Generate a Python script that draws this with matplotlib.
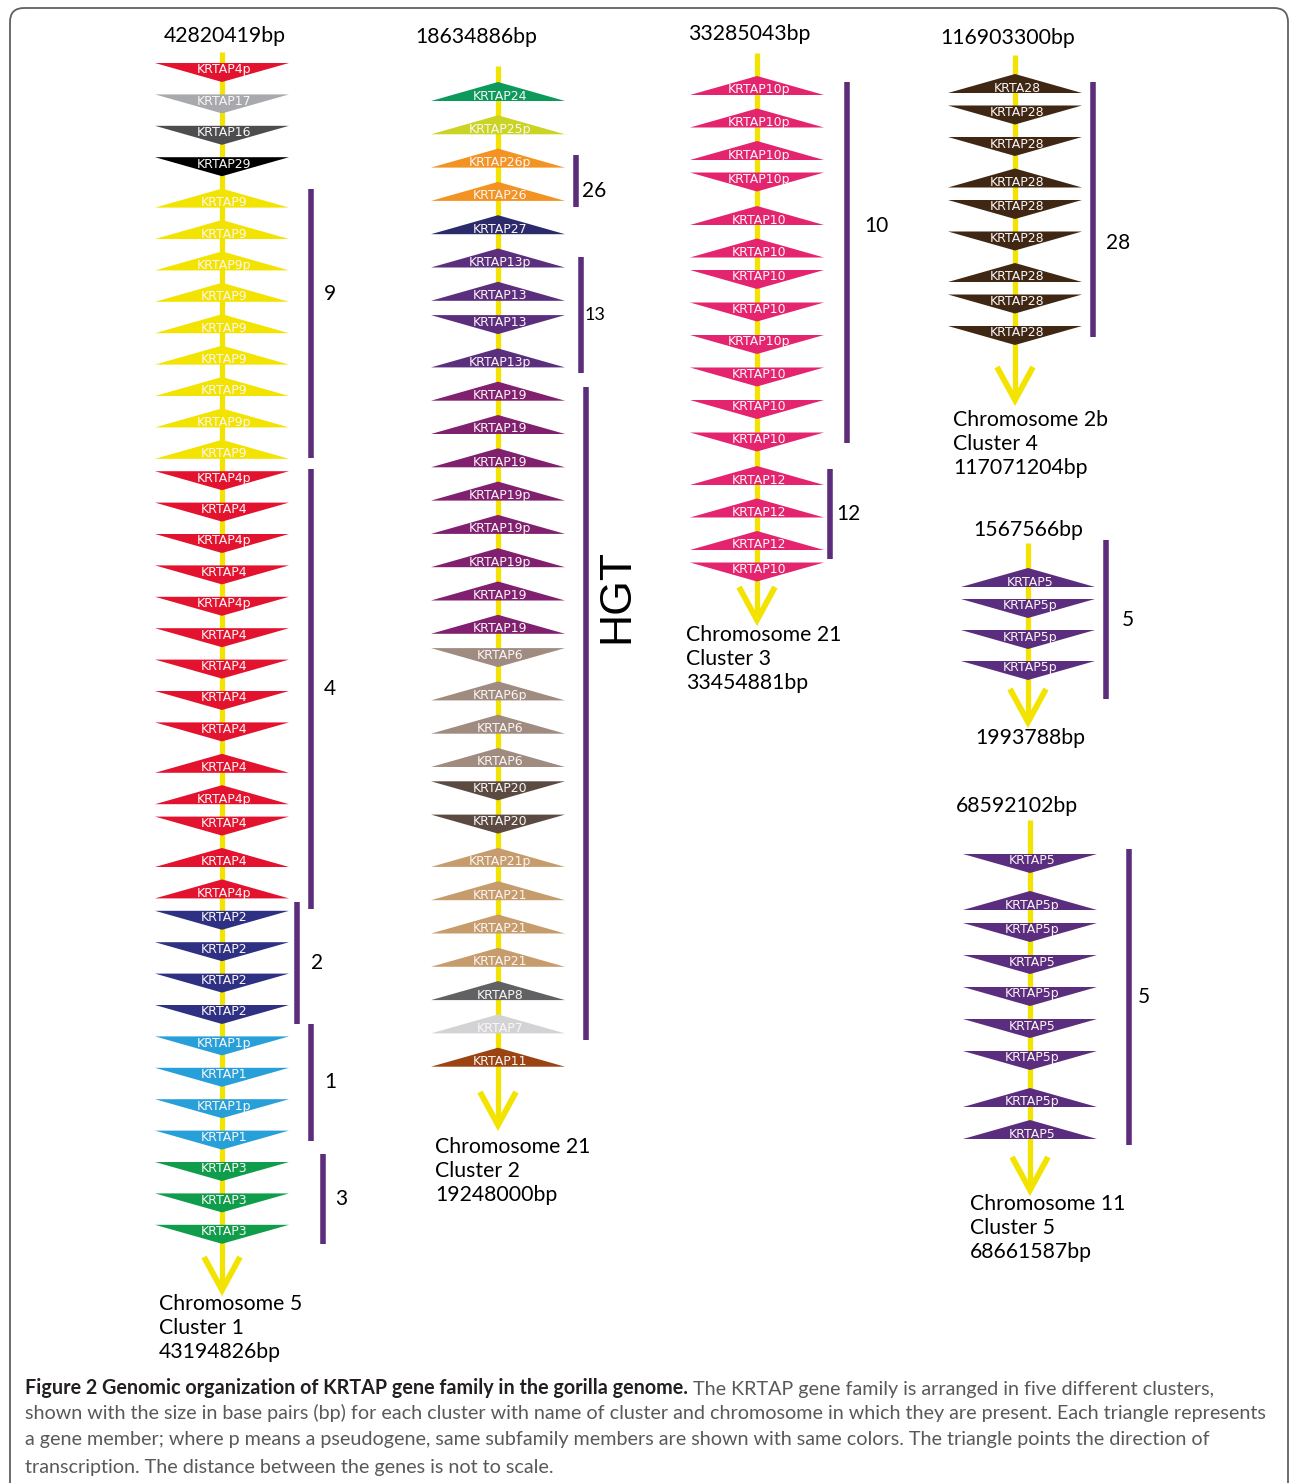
import re
import matplotlib
matplotlib.use("Agg")
import matplotlib.pyplot as plt
from matplotlib.patches import Polygon, FancyBboxPatch

# ---------------- data ----------------
c1_genes = ["KRTAP4p", "KRTAP17", "KRTAP16", "KRTAP29",
            "KRTAP9", "KRTAP9", "KRTAP9p", "KRTAP9", "KRTAP9", "KRTAP9", "KRTAP9", "KRTAP9p", "KRTAP9",
            "KRTAP4p", "KRTAP4", "KRTAP4p", "KRTAP4", "KRTAP4p", "KRTAP4", "KRTAP4", "KRTAP4", "KRTAP4",
            "KRTAP4", "KRTAP4p", "KRTAP4", "KRTAP4", "KRTAP4p",
            "KRTAP2", "KRTAP2", "KRTAP2", "KRTAP2",
            "KRTAP1p", "KRTAP1", "KRTAP1p", "KRTAP1",
            "KRTAP3", "KRTAP3", "KRTAP3"]
c1_dirs = "DDDD" + "UUUUUUUUU" + "DDDDDDDDDUUDUU" + "DDDD" + "DDDD" + "DDD"

c2_genes = ["KRTAP24", "KRTAP25p", "KRTAP26p", "KRTAP26", "KRTAP27",
            "KRTAP13p", "KRTAP13", "KRTAP13", "KRTAP13p",
            "KRTAP19", "KRTAP19", "KRTAP19", "KRTAP19p", "KRTAP19p", "KRTAP19p", "KRTAP19", "KRTAP19",
            "KRTAP6", "KRTAP6p", "KRTAP6", "KRTAP6", "KRTAP20", "KRTAP20",
            "KRTAP21p", "KRTAP21", "KRTAP21", "KRTAP21", "KRTAP8", "KRTAP7", "KRTAP11"]
c2_dirs = "UUUUU" + "UUDU" + "UUUUUUUU" + "DUUU" + "DD" + "UUUU" + "UUU"

c3_genes = ["KRTAP10p", "KRTAP10p", "KRTAP10p", "KRTAP10p",
            "KRTAP10", "KRTAP10", "KRTAP10", "KRTAP10", "KRTAP10p",
            "KRTAP10", "KRTAP10", "KRTAP10",
            "KRTAP12", "KRTAP12", "KRTAP12", "KRTAP10"]
c3_dirs = "UUUD" + "UUDDD" + "DDD" + "UUU" + "D"

c4_genes = ["KRTA28", "KRTAP28", "KRTAP28", "KRTAP28", "KRTAP28",
            "KRTAP28", "KRTAP28", "KRTAP28", "KRTAP28"]
c4_dirs = "UDDUDDUDD"

c5a_genes = ["KRTAP5", "KRTAP5p", "KRTAP5p", "KRTAP5p"]
c5a_dirs = "UDDD"

c5b_genes = ["KRTAP5", "KRTAP5p", "KRTAP5p", "KRTAP5", "KRTAP5p",
             "KRTAP5", "KRTAP5p", "KRTAP5p", "KRTAP5"]
c5b_dirs = "DUDDDDDUU"

start_labels = ["42820419bp", "18634886bp", "33285043bp", "116903300bp", "1567566bp", "68592102bp"]
end_labels = [["Chromosome 5", "Cluster 1", "43194826bp"],
              ["Chromosome 21", "Cluster 2", "19248000bp"],
              ["Chromosome 21", "Cluster 3", "33454881bp"],
              ["Chromosome 2b", "Cluster 4", "117071204bp"],
              ["1993788bp"],
              ["Chromosome 11", "Cluster 5", "68661587bp"]]

# subfamily groups: (label, first gene index, last gene index)
c1_groups = [("9", 4, 12), ("4", 13, 26), ("2", 27, 30), ("1", 31, 34), ("3", 35, 37)]
c2_groups = [("26", 2, 3), ("13", 5, 8), ("HGT", 9, 28)]
c3_groups = [("10", 0, 11), ("12", 12, 14)]
c4_groups = [("28", 0, 8)]
c5a_groups = [("5", 0, 3)]
c5b_groups = [("5", 0, 8)]

subfamily_colors = {
    "4": "#e3132f", "17": "#a7a9ac", "16": "#4d4d4f", "29": "#000000", "9": "#f3e300",
    "2": "#2e3083", "1": "#27a0d9", "3": "#0f9d4b",
    "24": "#0c9a5c", "25": "#c9d424", "26": "#f39323", "27": "#2b2a6a", "13": "#5c2e7e",
    "19": "#80206f", "6": "#a08b80", "20": "#5b4a42", "21": "#c69c6d", "8": "#616163",
    "7": "#d3d3d5", "11": "#9b4313", "10": "#e5246f", "12": "#e5246f", "28": "#3f2713",
    "5": "#5b2d7e",
}

# ---------------- layout / style ----------------
W, H = 1290, 1483
YELLOW = "#f3e300"
BRACKET = "#5b2d7b"
TXT_FONT = "Lato"
LBL_SIZE = 15.3

clusters = [
    dict(genes=c1_genes, dirs=c1_dirs, groups=c1_groups, x=222, y0=70, step=31.4, du=7, ud=-7,
         top=52, tip=1290, start_xy=(225, 36), end_xy=(159, 1304), end_ha="left",
         gstyle=[(311, 9, 4, 0.39, 19), (311, 4, 16, 0.5, 19), (297, 11, 12, 0.5, 20),
                 (311, 14, 3, 0.5, 19), (323, 10, 12, 0.5, 18)]),
    dict(genes=c2_genes, dirs=c2_dirs, groups=c2_groups, x=498, y0=96, step=33.3, du=7, ud=-7,
         top=66, tip=1125, start_xy=(476, 37), end_xy=(435, 1147), end_ha="left",
         gstyle=[(576, 3, 11, 0.7, 18), (581, 1, 11, 0.5, 14), (586, 4, 12, 0.32, 31)]),
    dict(genes=c3_genes, dirs=c3_dirs, groups=c3_groups, x=757, y0=90, step=32.5, du=8, ud=-8,
         top=53, tip=620, start_xy=(749, 34), end_xy=(686, 635), end_ha="left",
         gstyle=[(847, 3, 3, 0.40, 29), (830, 6, 14, 0.5, 18)]),
    dict(genes=c4_genes, dirs=c4_dirs, groups=c4_groups, x=1015, y0=88, step=31.5, du=7, ud=-7,
         top=55, tip=400, start_xy=(1008, 38), end_xy=(953, 420), end_ha="left",
         gstyle=[(1093, 1, 4, 0.63, 25)]),
    dict(genes=c5a_genes, dirs=c5a_dirs, groups=c5a_groups, x=1028, y0=582, step=31, du=7, ud=-7,
         top=543, tip=722, start_xy=(1028, 530), end_xy=(1030, 738), end_ha="center",
         gstyle=[(1106, 37, 31, 0.5, 22)]),
    dict(genes=c5b_genes, dirs=c5b_dirs, groups=c5b_groups, x=1030, y0=861, step=32, du=12, ud=-7,
         top=820, tip=1190, start_xy=(1017, 806), end_xy=(970, 1204), end_ha="left",
         gstyle=[(1129, 7, 11, 0.5, 15)]),
]

HW = 67      # triangle half-width
TH = 19      # triangle height

fig = plt.figure(figsize=(W / 100, H / 100), dpi=100)
ax = fig.add_axes([0, 0, 1, 1])
ax.set_xlim(0, W)
ax.set_ylim(H, 0)
ax.axis("off")


def positions(dirs, y0, step, du, ud):
    ys = [y0]
    for a, b in zip(dirs[:-1], dirs[1:]):
        g = step
        if (a, b) == ("D", "U"):
            g += du
        elif (a, b) == ("U", "D"):
            g += ud
        ys.append(ys[-1] + g)
    return ys


def subfam(name):
    return re.search(r"(\d+)", name).group(1)


for ci, c in enumerate(clusters):
    x = c["x"]
    ys = positions(c["dirs"], c["y0"], c["step"], c["du"], c["ud"])
    tip = c["tip"]
    # backbone
    ax.plot([x, x], [c["top"], tip - 2], color=YELLOW, lw=3.8, solid_capstyle="butt", zorder=1)
    ax.plot([x - 18, x, x + 18], [tip - 33, tip, tip - 33], color=YELLOW, lw=4.2,
            solid_capstyle="butt", solid_joinstyle="miter", zorder=1)
    # genes
    for name, d, y in zip(c["genes"], c["dirs"], ys):
        col = subfamily_colors[subfam(name)]
        if d == "U":
            base, apex = y + 5, y + 5 - TH
        else:
            base, apex = y - 7, y - 7 + TH
        tri = Polygon([[x - HW, base], [x + HW, base], [x, apex]], closed=True,
                      facecolor=col, edgecolor="none", zorder=2)
        ax.add_patch(tri)
        ax.text(x + 2, y, name, color="#fbf6f6", fontsize=9, ha="center", va="center",
                family="DejaVu Sans", zorder=3)
    # brackets
    for (lab, i0, i1), (bx, pt, pb, frac, dx) in zip(c["groups"], c["gstyle"]):
        yt = ys[i0] - 5 - pt
        yb = ys[i1] + pb
        ax.plot([bx, bx], [yt, yb], color=BRACKET, lw=4.0, solid_capstyle="butt", zorder=2)
        ly = yt + frac * (yb - yt)
        if lab == "HGT":
            ax.text(bx + dx, ly, lab, fontsize=32, rotation=90, ha="center", va="center",
                    family="Liberation Sans", color="black")
        else:
            ax.text(bx + dx, ly, lab, fontsize=15 if lab != "13" else 13, ha="center",
                    va="center", family=TXT_FONT, color="black")
    # start / end labels
    sx, sy = c["start_xy"]
    ax.text(sx, sy, start_labels[ci], fontsize=LBL_SIZE, ha="center", va="center",
            family=TXT_FONT, color="black")
    ex, ey = c["end_xy"]
    for k, line in enumerate(end_labels[ci]):
        ax.text(ex, ey + 24 * k, line, fontsize=LBL_SIZE, ha=c["end_ha"], va="center",
                family=TXT_FONT, color="black")

# outer rounded frame
frame = FancyBboxPatch((10, 8), 1278, 1540, boxstyle="round,pad=0,rounding_size=14",
                       facecolor="none", edgecolor="#5f6062", lw=1.3, clip_on=False, zorder=0)
ax.add_patch(frame)

# caption
cap_bold = "Figure 2 Genomic organization of KRTAP gene family in the gorilla genome."
cap_rest = " The KRTAP gene family is arranged in five different clusters,"
cap_lines = ["shown with the size in base pairs (bp) for each cluster with name of cluster and chromosome in which they are present. Each triangle represents",
             "a gene member; where p means a pseudogene, same subfamily members are shown with same colors. The triangle points the direction of",
             "transcription. The distance between the genes is not to scale."]
CAP_SIZE = 14.2
tb = ax.text(25, 1388, cap_bold, fontsize=CAP_SIZE, fontweight="bold", color="#231f20",
             ha="left", va="center", family=TXT_FONT)
ax.annotate(cap_rest, xy=(1, 0), xycoords=tb, ha="left", va="bottom", fontsize=CAP_SIZE,
            color="#58595b", family=TXT_FONT)
for k, line in enumerate(cap_lines):
    ax.text(25, 1413 + 27 * k, line, fontsize=CAP_SIZE, color="#58595b", ha="left",
            va="center", family=TXT_FONT)

fig.savefig("out.png", dpi=100)
